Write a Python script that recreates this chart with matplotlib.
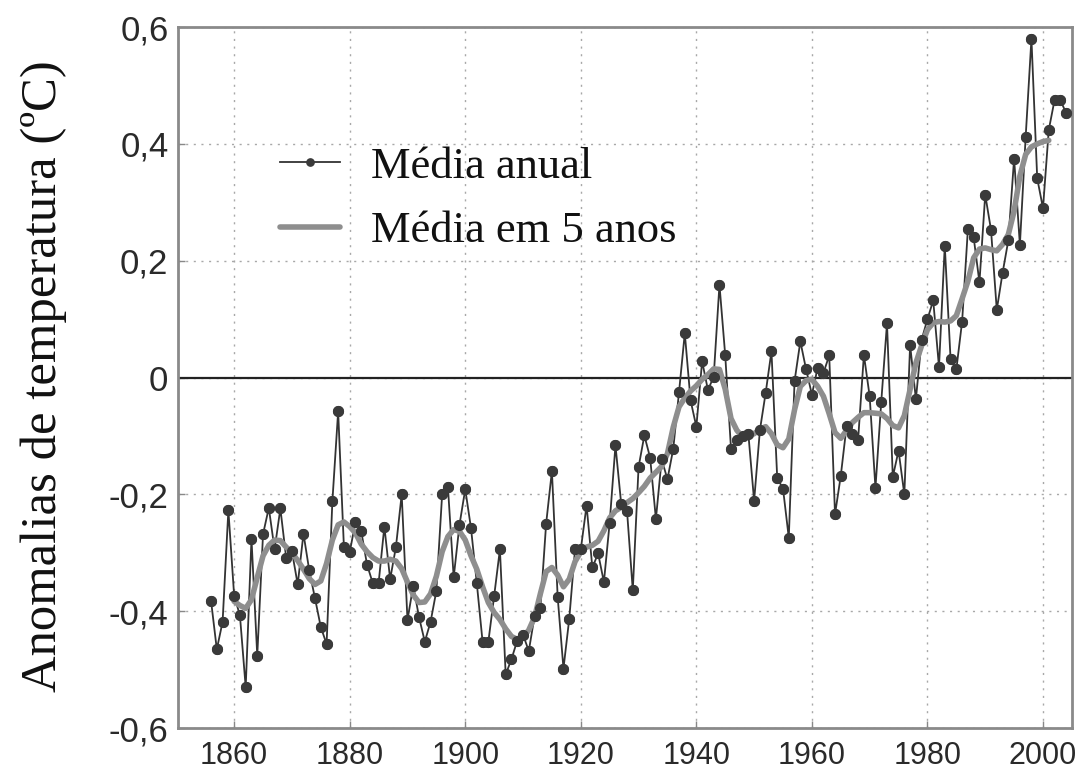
import matplotlib
matplotlib.use('Agg')
import matplotlib.pyplot as plt
from matplotlib.ticker import FuncFormatter

# annual global temperature anomaly, 1856-2004
anos = list(range(1856, 2005))
media_anual = [-0.382, -0.465, -0.418, -0.227,
               -0.373, -0.407, -0.530, -0.276, -0.476, -0.268, -0.223, -0.294, -0.224, -0.308,
               -0.297, -0.354, -0.267, -0.330, -0.378, -0.427, -0.456, -0.212, -0.058, -0.290,
               -0.299, -0.247, -0.263, -0.320, -0.352, -0.352, -0.255, -0.345, -0.290, -0.200,
               -0.415, -0.356, -0.410, -0.452, -0.418, -0.365, -0.200, -0.187, -0.342, -0.252,
               -0.191, -0.258, -0.352, -0.452, -0.452, -0.374, -0.294, -0.508, -0.482, -0.450,
               -0.440, -0.468, -0.408, -0.395, -0.250, -0.160, -0.376, -0.498, -0.413, -0.294,
               -0.294, -0.219, -0.325, -0.301, -0.350, -0.248, -0.116, -0.217, -0.228, -0.364,
               -0.153, -0.099, -0.137, -0.242, -0.140, -0.174, -0.122, -0.025, 0.076, -0.039,
               -0.084, 0.028, -0.021, 0.001, 0.159, 0.038, -0.122, -0.106, -0.100, -0.096,
               -0.211, -0.090, -0.026, 0.045, -0.172, -0.190, -0.274, -0.006, 0.062, 0.014,
               -0.029, 0.017, 0.008, 0.038, -0.234, -0.168, -0.083, -0.097, -0.106, 0.039,
               -0.032, -0.189, -0.042, 0.093, -0.170, -0.125, -0.200, 0.056, -0.037, 0.065,
               0.100, 0.132, 0.018, 0.226, 0.032, 0.014, 0.096, 0.254, 0.240, 0.163,
               0.313, 0.253, 0.116, 0.179, 0.235, 0.375, 0.227, 0.412, 0.580, 0.341,
               0.290, 0.424, 0.475, 0.475, 0.453]

# 5-year mean, 1860-2001
anos_5 = list(range(1860, 2002))
media_5anos = [-0.383, -0.390, -0.395, -0.380, -0.342, -0.305, -0.287, -0.278, -0.279, -0.290,
               -0.300, -0.313, -0.328, -0.344, -0.354, -0.348, -0.318, -0.278, -0.252, -0.247,
               -0.255, -0.266, -0.285, -0.298, -0.308, -0.314, -0.314, -0.311, -0.314, -0.327,
               -0.350, -0.372, -0.385, -0.384, -0.370, -0.340, -0.298, -0.272, -0.260, -0.263,
               -0.278, -0.305, -0.328, -0.358, -0.385, -0.402, -0.414, -0.430, -0.443, -0.448,
               -0.445, -0.432, -0.410, -0.370, -0.332, -0.325, -0.338, -0.358, -0.345, -0.315,
               -0.298, -0.290, -0.287, -0.280, -0.262, -0.240, -0.228, -0.222, -0.214, -0.207,
               -0.197, -0.186, -0.172, -0.162, -0.152, -0.130, -0.085, -0.050, -0.035, -0.023,
               -0.014, -0.003, 0.005, 0.015, 0.014, -0.020, -0.070, -0.090, -0.102, -0.100,
               -0.096, -0.088, -0.084, -0.096, -0.115, -0.120, -0.105, -0.055, -0.015, -0.005,
               -0.003, -0.015, -0.032, -0.062, -0.094, -0.104, -0.090, -0.077, -0.068, -0.060,
               -0.060, -0.061, -0.062, -0.070, -0.082, -0.086, -0.065, -0.020, 0.025, 0.055,
               0.082, 0.094, 0.096, 0.095, 0.097, 0.106, 0.135, 0.165, 0.205, 0.220,
               0.222, 0.219, 0.217, 0.228, 0.245, 0.285, 0.345, 0.382, 0.395, 0.400,
               0.404, 0.406]

x_ticks = [1860, 1880, 1900, 1920, 1940, 1960, 1980, 2000]
y_ticks = [-0.6, -0.4, -0.2, 0, 0.2, 0.4, 0.6]

serif = 'Liberation Serif'
sans = 'Liberation Sans'

fig = plt.figure(figsize=(10.86, 7.73), dpi=100, facecolor='white')
ax = fig.add_axes([0.164, 0.058, 0.823, 0.907])

ax.axhline(0, color='#222222', lw=1.6, zorder=2)

ax.plot(anos, media_anual, color='#333333', lw=1.3, marker='o', markersize=7,
        markerfacecolor='#3a3a3a', markeredgecolor='#3a3a3a', zorder=3, label='Média anual')
ax.plot(anos_5, media_5anos, color='#8e8e8e', lw=4.0, solid_capstyle='round',
        zorder=4, label='Média em 5 anos')
# dots on top of the smoothed curve
ax.plot(anos, media_anual, ls='none', marker='o', markersize=7,
        markerfacecolor='#3a3a3a', markeredgecolor='#3a3a3a', zorder=5)

ax.set_xlim(1850.3, 2005.0)
ax.set_ylim(-0.6, 0.6)
ax.set_xticks(x_ticks)
ax.set_yticks(y_ticks)


def virgula(v, pos):
    if abs(v) < 1e-9:
        return '0'
    return ('%.1f' % v).replace('.', ',')


ax.yaxis.set_major_formatter(FuncFormatter(virgula))

ax.grid(True, ls=(0, (1.5, 4)), color='#a8a8a8', lw=1.0, zorder=0)
ax.tick_params(direction='in', length=5, width=1, color='#888888',
               labelcolor='#2a2a2a')
ax.tick_params(axis='x', pad=9)
ax.tick_params(axis='y', pad=7)
for lab in ax.get_xticklabels():
    lab.set_fontfamily(sans)
    lab.set_fontsize(22)
for lab in ax.get_yticklabels():
    lab.set_fontfamily(sans)
    lab.set_fontsize(25)

for s in ax.spines.values():
    s.set_color('#8a8a8a')
    s.set_linewidth(2)

fig.text(0.040, 0.513, 'Anomalias de temperatura (ºC)', rotation=90,
         ha='center', va='center', family=serif, fontsize=36.5, color='#111111')

leg = ax.legend(loc='upper left', bbox_to_anchor=(0.094, 0.855), frameon=False,
                prop={'family': serif, 'size': 32}, handlelength=1.35,
                handletextpad=0.7, labelspacing=0.55, borderaxespad=0,
                markerscale=0.75)
for t in leg.get_texts():
    t.set_color('#111111')

fig.savefig('out.png', dpi=100, facecolor='white')
